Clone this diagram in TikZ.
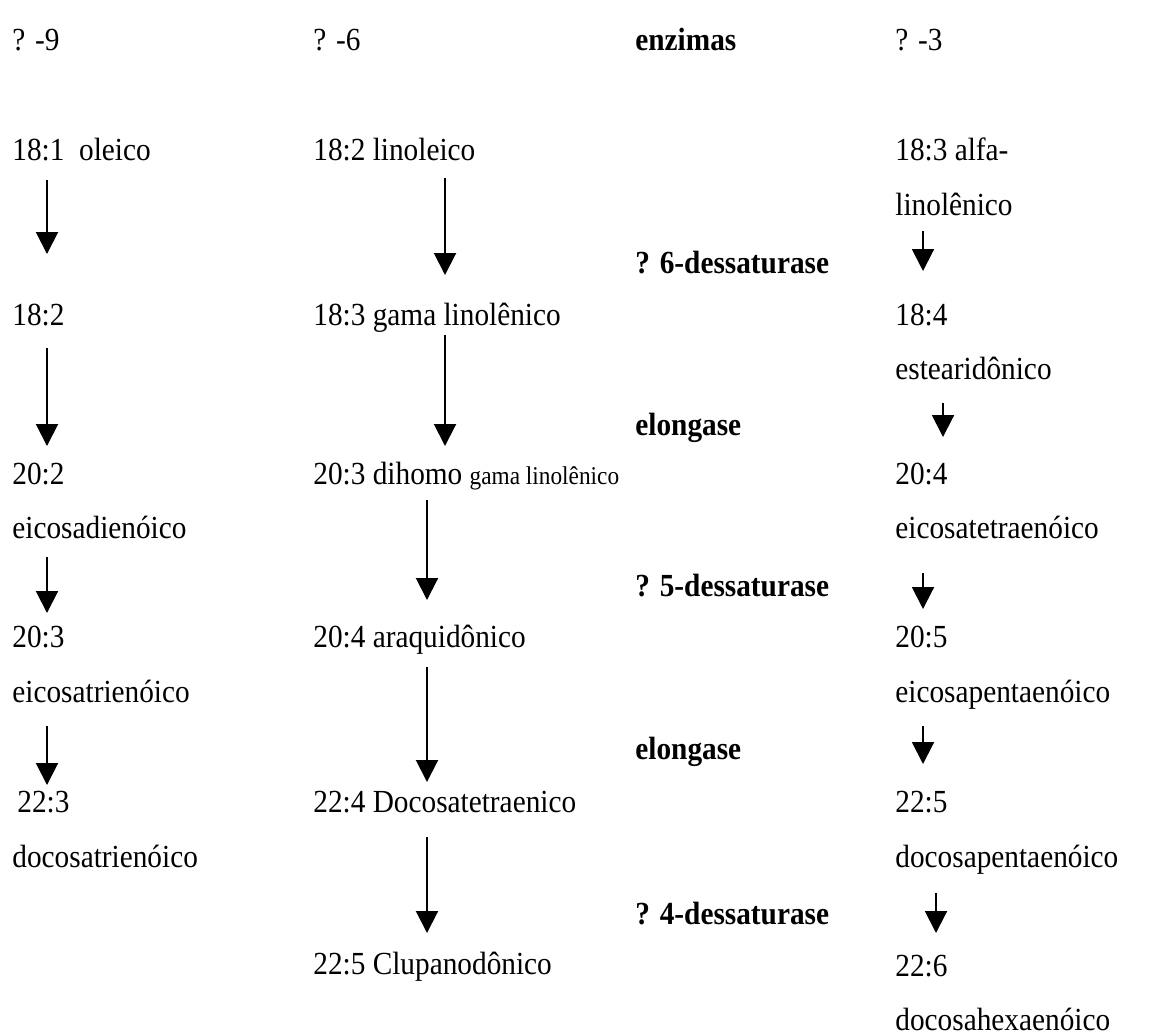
\documentclass[tikz,border=0pt]{standalone}
\usepackage{fontspec}
\setmainfont{Liberation Serif}[FakeStretch=0.91]
\usetikzlibrary{arrows.meta,calc}
\tikzset{
      arr/.style = {-{Triangle[width=11pt,length=11pt]}, line width=1pt},   % setas pretas
      txt/.style = {anchor=base west, inner sep=0pt,
                    font=\fontsize{16.1}{19}\selectfont},
      enz/.style = {txt, font=\fontsize{16.1}{19}\selectfont\bfseries},
        }

\begin{document}
\begin{tikzpicture}[x=0.5pt,y=-0.5pt]
  \useasboundingbox (0,0) rectangle (1149,1034);

  % cabecalho
  \node[txt] (h9) at (12,50) {? -9};
  \node[txt] (h6) at (313,50) {? -6};
  \node[enz] (he) at (635,50) {enzimas};
  \node[txt] (h3) at (895,50) {? -3};

  % serie omega 9
  \node[txt] (n9a)  at (12,160)  {18:1~~oleico};
  \node[txt] (n9b)  at (12,325)  {18:2};
  \node[txt] (n9c)  at (12,484)  {20:2};
  \node[txt] (n9cc) at (12,538)  {eicosadienóico};
  \node[txt] (n9d)  at (12,647)  {20:3};
  \node[txt] (n9dd) at (12,702)  {eicosatrienóico};
  \node[txt] (n9e)  at (17,812)  {22:3};
  \node[txt] (n9ee) at (12,867)  {docosatrienóico};

  % serie omega 6
  \node[txt] (n6a) at (313,160) {18:2 linoleico};
  \node[txt] (n6b) at (313,325) {18:3 gama linolênico};
  \node[txt] (n6c) at (313,484) {20:3 dihomo {\fontsize{12.8}{14}\selectfont gama linolênico}};
  \node[txt] (n6d) at (313,647) {20:4 araquidônico};
  \node[txt] (n6e) at (313,812) {22:4 Docosatetraenico};
  \node[txt] (n6f) at (313,974) {22:5 Clupanodônico};

  % enzimas
  \node[enz] (e1) at (635,273) {? 6-dessaturase};
  \node[enz] (e2) at (635,435) {elongase};
  \node[enz] (e3) at (635,596) {? 5-dessaturase};
  \node[enz] (e4) at (635,759) {elongase};
  \node[enz] (e5) at (635,924) {? 4-dessaturase};

  % serie omega 3
  \node[txt] (n3a)  at (895,160)  {18:3 alfa-};
  \node[txt] (n3aa) at (895,215)  {linolênico};
  \node[txt] (n3b)  at (895,325)  {18:4};
  \node[txt] (n3bb) at (895,379)  {estearidônico};
  \node[txt] (n3c)  at (895,484)  {20:4};
  \node[txt] (n3cc) at (895,538)  {eicosatetraenóico};
  \node[txt] (n3d)  at (895,647)  {20:5};
  \node[txt] (n3dd) at (895,702)  {eicosapentaenóico};
  \node[txt] (n3e)  at (895,812)  {22:5};
  \node[txt] (n3ee) at (895,867)  {docosapentaenóico};
  \node[txt] (n3f)  at (895,976)  {22:6};
  \node[txt] (n3ff) at (895,1030) {docosahexaenóico};

  \draw[arr] ($(n9a.base west)+(35,20)$)  -- ($(n9b.base west)+(35,-71)$);
  \draw[arr] ($(n9b.base west)+(35,23)$)  -- ($(n9c.base west)+(35,-38)$);
  \draw[arr] ($(n9cc.base west)+(35,19)$) -- ($(n9d.base west)+(35,-34)$);
  \draw[arr] ($(n9dd.base west)+(35,24)$) -- ($(n9e.base west)+(30,-27)$);

  \draw[arr] ($(n6a.base west)+(132,18)$) -- ($(n6b.base west)+(132,-50)$);
  \draw[arr] ($(n6b.base west)+(132,10)$) -- ($(n6c.base west)+(132,-38)$);
  \draw[arr] ($(n6c.base west)+(114,16)$) -- ($(n6d.base west)+(114,-47)$);
  \draw[arr] ($(n6d.base west)+(114,20)$) -- ($(n6e.base west)+(114,-30)$);
  \draw[arr] ($(n6e.base west)+(114,25)$) -- ($(n6f.base west)+(114,-41)$);

  \draw[arr] ($(n3aa.base west)+(28,16)$) -- ($(n3b.base west)+(28,-54)$);
  \draw[arr] ($(n3bb.base west)+(48,24)$) -- ($(n3c.base west)+(48,-47)$);
  \draw[arr] ($(n3cc.base west)+(28,35)$) -- ($(n3d.base west)+(28,-38)$);
  \draw[arr] ($(n3dd.base west)+(28,24)$) -- ($(n3e.base west)+(28,-48)$);
  \draw[arr] ($(n3ee.base west)+(41,26)$) -- ($(n3f.base west)+(41,-43)$);
\end{tikzpicture}
\end{document}
